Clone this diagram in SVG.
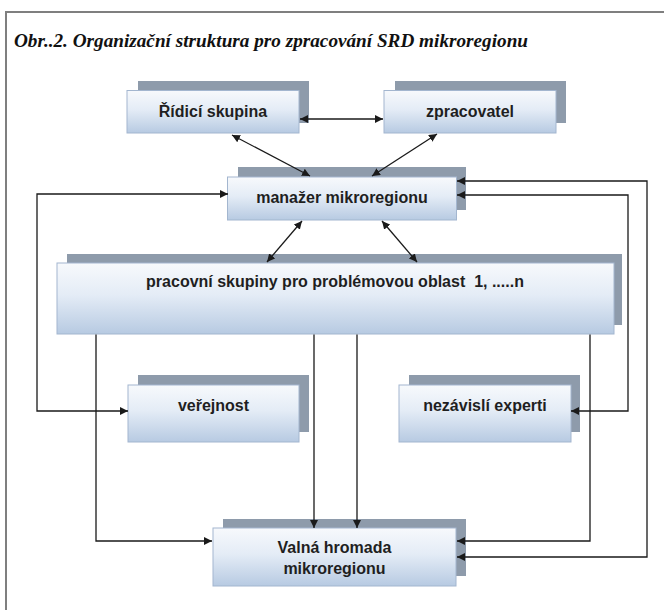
<svg xmlns="http://www.w3.org/2000/svg" width="664" height="610" viewBox="0 0 664 610">
<defs>
<linearGradient id="g" x1="0" y1="0" x2="0" y2="1">
<stop offset="0" stop-color="#f7f9fc"/>
<stop offset="0.45" stop-color="#e4ecf6"/>
<stop offset="1" stop-color="#b7cae2"/>
</linearGradient>
<marker id="a" viewBox="0 0 10 10" refX="10" refY="5" markerWidth="8" markerHeight="8" markerUnits="userSpaceOnUse" orient="auto-start-reverse">
<path d="M0,0 L10,5 L0,10 z" fill="#1a1a1a"/>
</marker>
</defs>
<style>
.sh{fill:#8e9bab}
.fr{fill:url(#g);stroke:#a3b6cf;stroke-width:1}
.t{font-family:"Liberation Sans",Arial,sans-serif;font-weight:bold;font-size:16px;fill:#1f1f1f;text-anchor:middle}
.c2{fill:none;stroke:#1a1a1a;stroke-width:1.3;marker-end:url(#a)}
.c3{fill:none;stroke:#1a1a1a;stroke-width:1.3;marker-start:url(#a);marker-end:url(#a)}
</style>
<rect x="0" y="0" width="664" height="610" fill="#ffffff"/>
<path d="M6,610 V12 H664" fill="none" stroke="#7f7f7f" stroke-width="2"/>
<text x="14" y="47" font-family="'Liberation Serif','Times New Roman',serif" font-style="italic" font-weight="bold" font-size="19" fill="#111" textLength="514" lengthAdjust="spacingAndGlyphs">Obr..2. Organizační struktura pro zpracování SRD mikroregionu</text>

<g id="ridici">
<rect class="sh" x="138" y="81" width="171" height="42"/>
<rect class="fr" x="127" y="90.5" width="172" height="42.5"/>
<text class="t" x="213" y="117">Řídicí skupina</text>
</g>
<g id="zpracovatel">
<rect class="sh" x="395" y="81" width="171" height="42"/>
<rect class="fr" x="384" y="90.5" width="172" height="42.5"/>
<text class="t" x="470" y="117">zpracovatel</text>
</g>
<g id="manazer">
<rect class="sh" x="238" y="167" width="228" height="43"/>
<rect class="fr" x="227.5" y="177" width="229" height="43"/>
<text class="t" x="342" y="203">manažer mikroregionu</text>
</g>
<g id="pracovni">
<rect class="sh" x="67" y="254" width="555" height="71"/>
<rect class="fr" x="57" y="263" width="557" height="71"/>
<text class="t" x="335" y="287" xml:space="preserve">pracovní skupiny pro problémovou oblast  1, .....n</text>
</g>
<g id="verejnost">
<rect class="sh" x="138" y="375" width="171" height="57"/>
<rect class="fr" x="128" y="385" width="171" height="57"/>
<text class="t" x="213.5" y="411">veřejnost</text>
</g>
<g id="experti">
<rect class="sh" x="409" y="375" width="171" height="57"/>
<rect class="fr" x="399" y="385" width="172" height="57"/>
<text class="t" x="485" y="411">nezávislí experti</text>
</g>
<g id="valna">
<rect class="sh" x="223" y="519" width="243" height="57"/>
<rect class="fr" x="213" y="528" width="243" height="58"/>
<text class="t" x="334.5" y="553">Valná hromada</text>
<text class="t" x="334.5" y="574">mikroregionu</text>
</g>

<g id="connectors">
<line class="c3" x1="300" y1="119" x2="383" y2="119"/>
<line class="c3" x1="232" y1="135" x2="310" y2="176"/>
<line class="c3" x1="437" y1="134" x2="372" y2="176"/>
<line class="c3" x1="302" y1="221" x2="267" y2="262"/>
<line class="c3" x1="382" y1="221" x2="417" y2="262"/>
<path class="c3" d="M228,194 H37 V411 H128"/>
<path class="c3" d="M457,181 H647 V557 H457"/>
<path class="c3" d="M457,195 H628 V411 H571"/>
<path class="c2" d="M96,334.5 V541 H212"/>
<path class="c2" d="M314,334.5 V528"/>
<path class="c2" d="M357,334.5 V528"/>
<path class="c2" d="M590,334.5 V541 H457"/>
</g>
</svg>
